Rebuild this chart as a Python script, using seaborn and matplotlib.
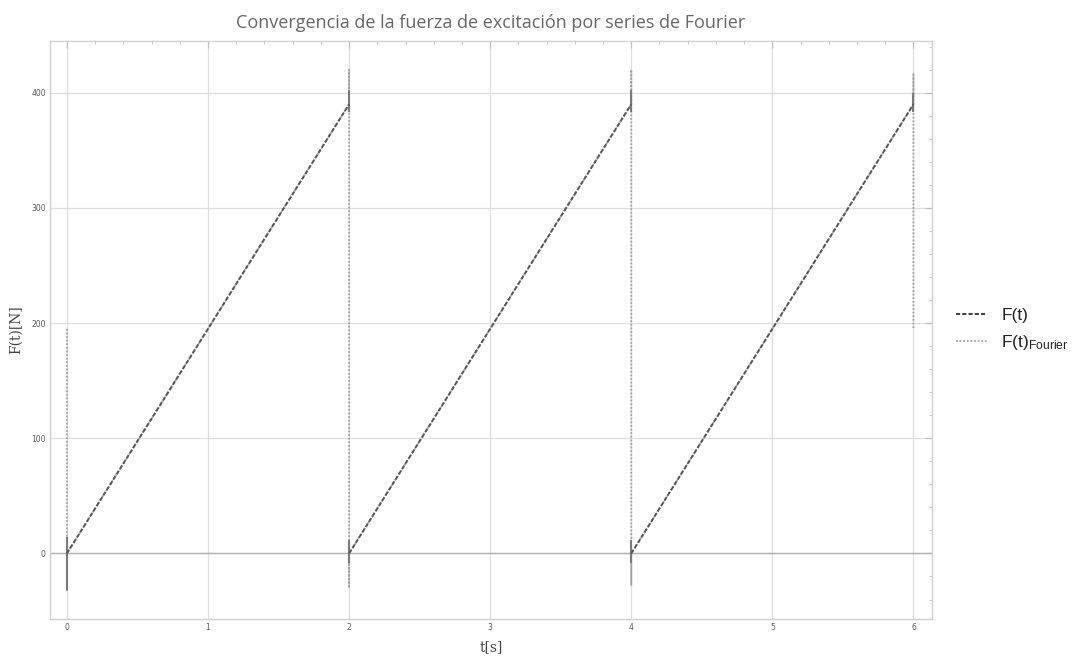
import pandas as pd
import seaborn as sns
import matplotlib.pyplot as plt
from matplotlib.lines import Line2D
from matplotlib.ticker import MultipleLocator

# F(t) sawtooth, one ramp per period
t_ft = [0, 2, 2, 4, 4, 6]
f_ft = [0, 390, 0, 390, 0, 390]
period_ft = [1, 1, 2, 2, 3, 3]

# Fourier series (jumps with Gibbs overshoot)
t_fourier = [0, 0, 0, 2, 2, 2, 2, 4, 4, 4, 4, 6, 6, 6]
f_fourier = [195, -32, 0, 390, 420, -30, 0, 390, 420, -28, 0, 390, 417, 195]

# dense Gibbs band near the jumps (looks solid in the picture)
gibbs_t = [0, 2, 2, 4, 4, 6]
gibbs_lo = [-32, 383, -8, 383, -8, 383]
gibbs_hi = [14, 402, 12, 402, 12, 400]

df_ft = pd.DataFrame({'t': t_ft, 'F': f_ft, 'period': period_ft})
df_fourier = pd.DataFrame({'t': t_fourier, 'F': f_fourier})

sns.set_style('white')
fig = plt.figure(figsize=(10.86, 6.6), dpi=100)
ax = fig.add_axes([0.046, 0.062, 0.812, 0.876])

ax.grid(True, which='major', color='#dedede', linewidth=0.9)
ax.axhline(0, color='#b0b0b0', linewidth=1.0, zorder=1)

sns.lineplot(data=df_fourier, x='t', y='F', sort=False, estimator=None, ax=ax,
             color='#a0a0a0', linestyle=(0, (1, 1)), linewidth=1.3, zorder=2)
ax.vlines(gibbs_t, gibbs_lo, gibbs_hi, color='#7a7a7a', linewidth=1.5, zorder=3)
sns.lineplot(data=df_ft, x='t', y='F', units='period', sort=False, estimator=None, ax=ax,
             color='#555555', linestyle=(0, (2.2, 1)), linewidth=1.4, zorder=4)

ax.set_xlim(-0.12, 6.13)
ax.set_ylim(-57, 445)
ax.xaxis.set_major_locator(MultipleLocator(1))
ax.xaxis.set_minor_locator(MultipleLocator(0.2))
ax.yaxis.set_major_locator(MultipleLocator(100))
ax.yaxis.set_minor_locator(MultipleLocator(20))
ax.tick_params(which='both', direction='in', top=True, right=True, colors='#bbbbbb',
               labelcolor='#555555', labelsize=5.5)
ax.tick_params(which='major', length=5, width=0.8, pad=3)
ax.tick_params(which='minor', length=2.5, width=0.6)
for s in ax.spines.values():
    s.set_color('#d0d0d0')
    s.set_linewidth(1.0)

ax.set_xlabel('t[s]', family='DejaVu Serif', fontsize=10, color='#444444', labelpad=6)
ax.set_ylabel('F(t)[N]', family='DejaVu Serif', fontsize=10, color='#444444', labelpad=6)
ax.set_title('Convergencia de la fuerza de excitación por series de Fourier',
             family='Open Sans', fontsize=13, color='#666666', pad=9)

handles = [Line2D([], [], color='#444444', linestyle=(0, (2, 1)), linewidth=1.5),
           Line2D([], [], color='#a0a0a0', linestyle=(0, (1, 1)), linewidth=1.3)]
leg = ax.legend(handles, ['F(t)', r'$\mathregular{F(t)_{Fourier}}$'],
                loc='center left', bbox_to_anchor=(1.01, 0.5), frameon=False,
                handlelength=1.8, handletextpad=0.8, labelspacing=0.6,
                prop={'family': 'Liberation Sans', 'size': 12.5})
for txt in leg.get_texts():
    txt.set_color('#222222')

fig.savefig('out.png', dpi=100)
